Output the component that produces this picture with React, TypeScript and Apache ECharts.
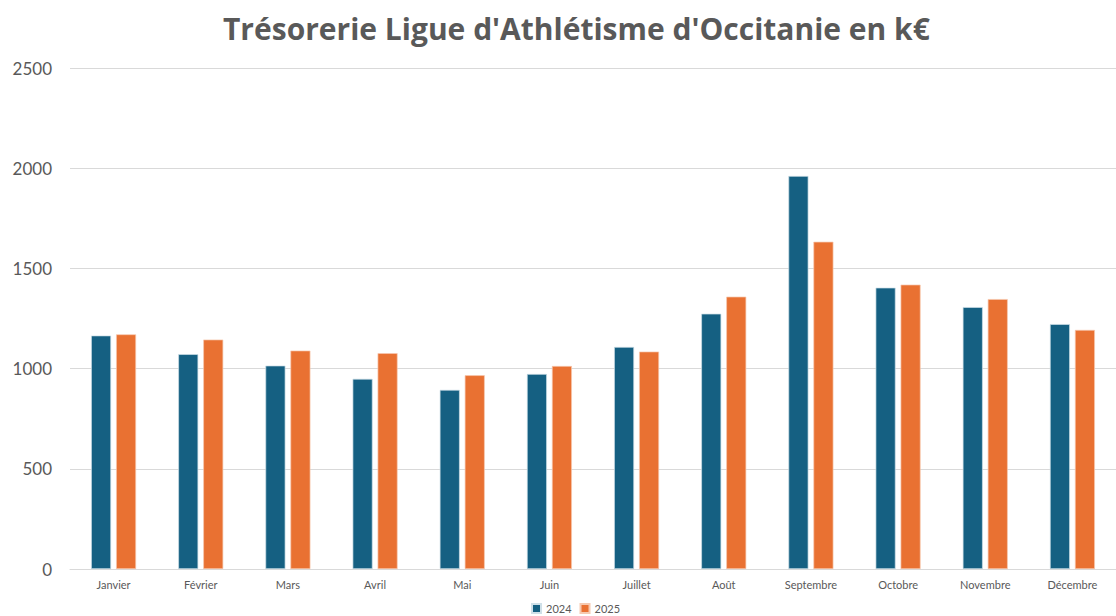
import React, { useEffect, useRef } from "react";
import * as echarts from "echarts";

const titleText = "Trésorerie Ligue d'Athlétisme d'Occitanie en k€";
const months = ["Janvier", "Février", "Mars", "Avril", "Mai", "Juin", "Juillet", "Août", "Septembre", "Octobre", "Novembre", "Décembre"];
const values2024 = [1165, 1072, 1015, 949, 894, 973, 1108, 1274, 1961, 1404, 1307, 1222];
const values2025 = [1171, 1145, 1090, 1077, 967, 1013, 1085, 1359, 1633, 1419, 1347, 1193];
const seriesNames = ["2024", "2025"];
const colors = ["#156082", "#E97132"];

export default function App() {
  const ref = useRef<HTMLDivElement>(null);
  useEffect(() => {
    const chart = echarts.init(ref.current!, null, { renderer: "svg" });
    chart.setOption({
      animation: false,
      textStyle: { fontFamily: "Lato, 'Open Sans', sans-serif" },
      title: {
        text: titleText,
        left: 218,
        top: 8,
        textStyle: { fontSize: 30, fontWeight: "bold", color: "#595959", fontFamily: "'Open Sans', sans-serif" },
      },
      legend: {
        bottom: -3,
        left: 526,
        itemWidth: 9,
        itemHeight: 9,
        itemGap: 8,
        textStyle: { fontSize: 11, color: "#595959" },
        data: seriesNames,
        icon: "rect",
      },
      grid: { left: 70, right: 0, top: 68, bottom: 47 },
      xAxis: {
        type: "category",
        data: months,
        axisTick: { show: false },
        axisLine: { lineStyle: { color: "#d9d9d9" } },
        axisLabel: { color: "#595959", fontSize: 11, margin: 10 },
      },
      yAxis: {
        type: "value",
        min: 0,
        max: 2500,
        interval: 500,
        axisLabel: { color: "#595959", fontSize: 17, margin: 18, formatter: (v: number) => String(v) },
        splitLine: { lineStyle: { color: "#d9d9d9" } },
      },
      series: [
        {
          name: seriesNames[0],
          type: "bar",
          data: values2024,
          barWidth: 20,
          barGap: "25%",
          itemStyle: { color: colors[0], borderColor: "#cfe0e8", borderWidth: 0.7 },
        },
        {
          name: seriesNames[1],
          type: "bar",
          data: values2025,
          barWidth: 20,
          barGap: "25%",
          itemStyle: { color: colors[1], borderColor: "#f6c9b0", borderWidth: 0.7 },
        },
      ],
    });
    return () => chart.dispose();
  }, []);
  return <div ref={ref} style={{ width: 1116, height: 616, position: "absolute", left: 0, top: 0 }} />;
}
